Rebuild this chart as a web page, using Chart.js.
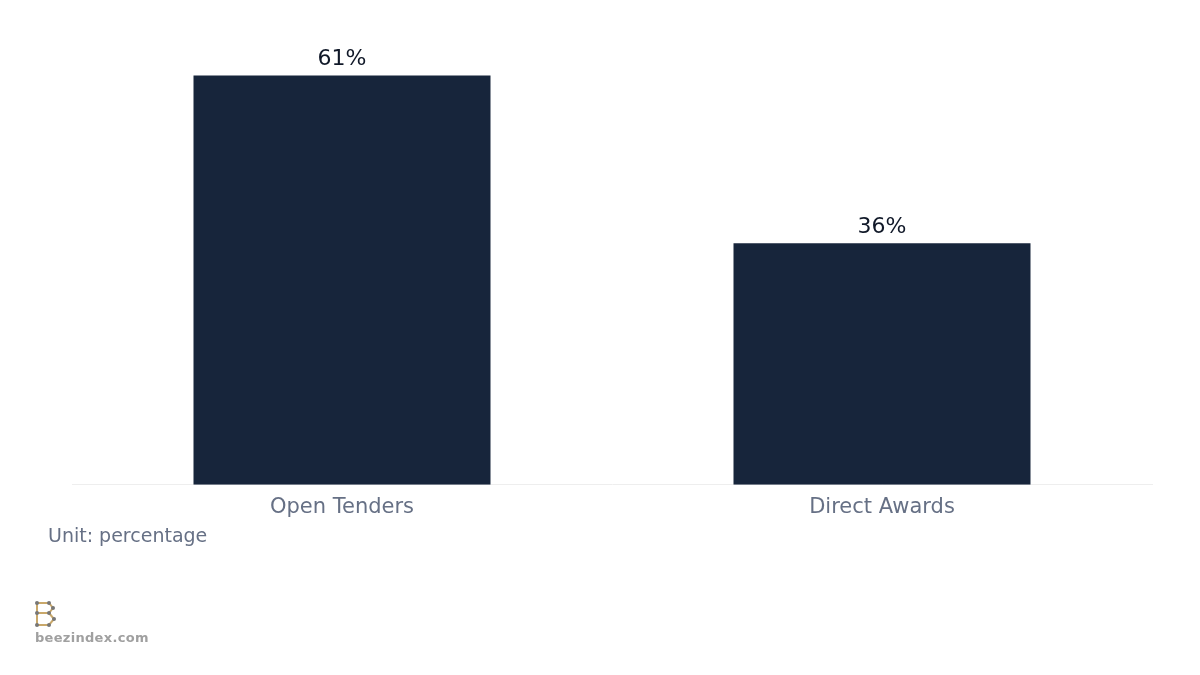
<!DOCTYPE html>
<html><head><meta charset="utf-8">
<script src="https://cdn.jsdelivr.net/npm/chart.js@4"></script>
<style>
html,body{margin:0;padding:0;background:#fff;width:1200px;height:675px;overflow:hidden;font-family:"DejaVu Sans",sans-serif}
#wrap{position:absolute;left:0;top:0;width:1200px;height:675px}
#unit{position:absolute;left:48px;top:524px;font-size:19px;color:#667085}
#brand{position:absolute;left:35px;top:630px;font-size:13px;font-weight:bold;color:#a0a0a0;letter-spacing:0.3px}
#logo{position:absolute;left:33px;top:600px}
</style></head>
<body>
<div id="wrap"><canvas id="c" width="1200" height="675"></canvas></div>
<div id="unit">Unit: percentage</div>
<svg id="logo" width="26" height="28" viewBox="0 0 26 28">
<path d="M4 3 L4 25 M4 3 L16 3 L20 8 L16 13 L4 13 M16 13 L21 19 L16 25 L4 25" stroke="#c9a86a" stroke-width="2" fill="none"/>
<g fill="#777"><circle cx="4" cy="3" r="2"/><circle cx="16" cy="3" r="2"/><circle cx="20" cy="8" r="2"/><circle cx="4" cy="13" r="2"/><circle cx="16" cy="13" r="2"/><circle cx="21" cy="19" r="2"/><circle cx="4" cy="25" r="2"/><circle cx="16" cy="25" r="2"/></g>
</svg>
<div id="brand">beezindex.com</div>
<script>
const categories = ["Open Tenders", "Direct Awards"];
const values = [61, 36];
const valueLabels = ["61%", "36%"];

const labelPlugin = {
  id: 'vlabels',
  afterDatasetsDraw(chart) {
    const ctx = chart.ctx;
    const meta = chart.getDatasetMeta(0);
    ctx.save();
    ctx.font = '22px "DejaVu Sans"';
    ctx.fillStyle = '#101828';
    ctx.textAlign = 'center';
    ctx.textBaseline = 'bottom';
    meta.data.forEach((bar, i) => ctx.fillText(valueLabels[i], bar.x, bar.y - 5));
    ctx.restore();
  }
};

new Chart(document.getElementById('c'), {
  type: 'bar',
  data: { labels: categories, datasets: [{ data: values, backgroundColor: '#17253b', categoryPercentage: 0.55, barPercentage: 1 }] },
  options: {
    responsive: false, animation: false,
    layout: { padding: { left: 72, right: 48, top: 15, bottom: 153 } },
    plugins: { legend: { display: false }, tooltip: { enabled: false } },
    scales: {
      x: { grid: { display: false }, border: { color: '#eeeeee' },
           ticks: { color: '#667085', font: { size: 21, family: 'DejaVu Sans' }, padding: 2 } },
      y: { display: false, min: 0, max: 70 }
    }
  },
  plugins: [labelPlugin]
});
</script>
</body></html>
